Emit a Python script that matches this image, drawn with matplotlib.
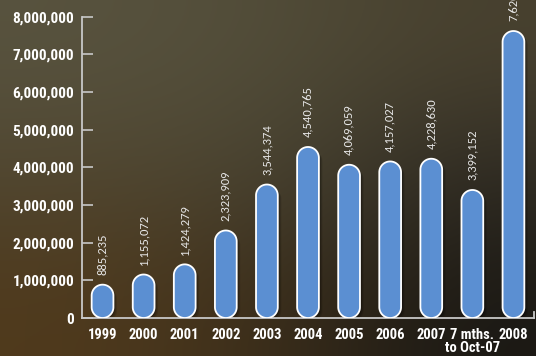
import matplotlib
matplotlib.use("Agg")
import matplotlib.pyplot as plt
import matplotlib.transforms as mtransforms
from matplotlib.patches import Polygon
import numpy as np

# Yearly totals
categories = ["1999", "2000", "2001", "2002", "2003", "2004", "2005",
              "2006", "2007", "7 mths.\nto Oct-07", "2008"]
values = [885235, 1155072, 1424279, 2323909, 3544374, 4540765, 4069059,
          4157027, 4228630, 3399152, 7620000]
value_labels = [f"{v:,}" for v in values]
yticks = list(range(0, 8000001, 1000000))
ytick_labels = [f"{t:,}" for t in yticks]

LABEL_FONT = ["Roboto Condensed", "DejaVu Sans"]
VALUE_FONT = ["Carlito", "Open Sans", "DejaVu Sans"]

W, H = 536, 356
fig = plt.figure(figsize=(W / 100, H / 100), dpi=100)

# Background gradient
grid = np.array([
    [[88, 83, 63], [82, 77, 57], [72, 65, 47]],
    [[80, 70, 48], [74, 68, 50], [46, 42, 34]],
    [[80, 58, 28], [60, 46, 26], [26, 24, 20]],
], dtype=float) / 255
bg = fig.add_axes([0, 0, 1, 1], zorder=0)
bg.imshow(grid, extent=[0, 1, 0, 1], interpolation="bicubic", aspect="auto")
bg.set_xlim(0, 1)
bg.set_ylim(0, 1)
bg.axis("off")

x0, x1 = 82, 534
y_top, y_zero = 16.7, 318
ax = fig.add_axes([x0 / W, (H - y_zero) / H, (x1 - x0) / W, (y_zero - y_top) / H], zorder=1)
ax.patch.set_alpha(0)
n = len(categories)
ax.set_xlim(-0.5, n - 0.5)
ax.set_ylim(0, 8_000_000)

# Pixel scale for drawing circular caps
px_per_x = (x1 - x0) / n
px_per_y = (y_zero - y_top) / 8_000_000
bar_w = 0.53
rx = bar_w / 2
ry = rx * px_per_x / px_per_y

def pill(xc, v):
    t_top = np.linspace(0, np.pi, 40)
    t_bot = np.linspace(np.pi, 2 * np.pi, 40)
    top = np.column_stack([xc + rx * np.cos(t_top), (v - ry) + ry * np.sin(t_top)])
    bot = np.column_stack([xc + rx * np.cos(t_bot), ry + ry * np.sin(t_bot)])
    return np.vstack([top, bot])

# soft drop shadow built from a few offset layers
shadow_layers = [(3.5, 0.12), (2.5, 0.15), (1.5, 0.18)]

for i, v in enumerate(values):
    pts = pill(i, v)
    for off, a in shadow_layers:
        tr = mtransforms.offset_copy(ax.transData, fig=fig, x=off, y=-off, units="dots")
        ax.add_patch(Polygon(pts, closed=True, facecolor="black", edgecolor="none",
                             alpha=a, transform=tr, zorder=2))
    ax.add_patch(Polygon(pts, closed=True, facecolor="#5b8fd2", edgecolor="white",
                         linewidth=1.3, zorder=3))
    ax.annotate(value_labels[i], (i, v), xytext=(0, 7), textcoords="offset points",
                rotation=90, ha="center", va="bottom", fontsize=9,
                family=VALUE_FONT, color="#e8e8e8", annotation_clip=False, zorder=4)

axis_col = "#c8c8c8"
for s in ("top", "right"):
    ax.spines[s].set_visible(False)
for s in ("left", "bottom"):
    ax.spines[s].set_color(axis_col)
    ax.spines[s].set_linewidth(1.3)
ax.plot([1, 1], [0, 0.02], transform=ax.transAxes, color=axis_col, lw=1.3, clip_on=False)

ax.set_yticks(yticks)
ax.set_yticklabels(ytick_labels, family=LABEL_FONT, fontweight="bold",
                   fontsize=11, color="white")
ax.tick_params(axis="y", direction="in", length=8, width=1.2, color=axis_col, pad=5.5)

ax.set_xticks(range(n))
ax.set_xticklabels(categories, family=LABEL_FONT, fontweight="bold",
                   fontsize=10.5, color="white", linespacing=0.9)
ax.tick_params(axis="x", length=0, pad=7)

fig.savefig("out.png", dpi=100)
